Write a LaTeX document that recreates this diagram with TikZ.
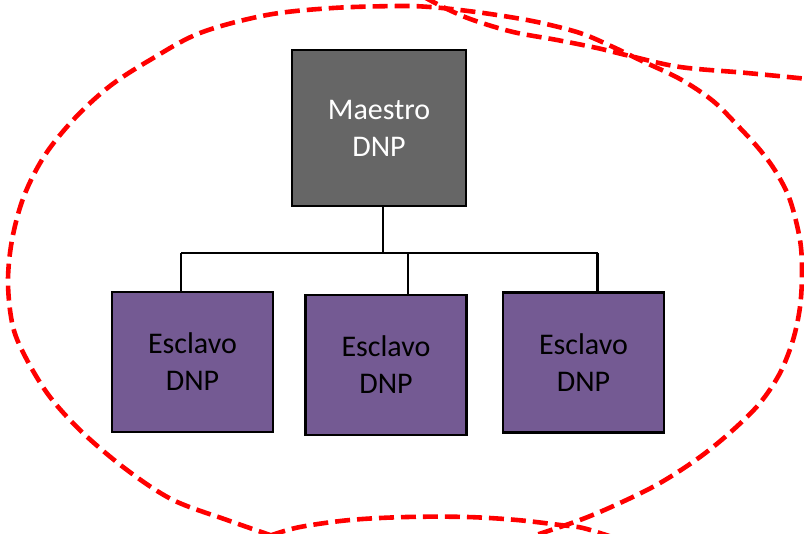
\documentclass[tikz,border=0pt]{standalone}
\usepackage{fontspec}
\setmainfont{Carlito}
\definecolor{mastergray}{HTML}{666666}
\definecolor{slavepurple}{HTML}{745A93}
\tikzset{
  box/.style={draw=black, line width=2.3pt, align=center, inner sep=0pt,
    font=\fontsize{30}{37}\selectfont},
  masterbox/.style={box, fill=mastergray, text=white,
    minimum width=174pt, minimum height=156pt},
  slavebox/.style={box, fill=slavepurple, text=black,
    minimum width=161pt, minimum height=140pt},
  link/.style={draw=black, line width=2.3pt},
  zone/.style={draw=red, line width=4.6pt, dash pattern=on 15pt off 7pt}
}
\begin{document}
\begin{tikzpicture}[x=1pt, y=-1pt]
  \useasboundingbox (0,0) rectangle (804,534);
  \clip (0,0) rectangle (804,534);

  % dashed red boundary lines
  \draw[zone] plot[smooth, tension=0.55] coordinates {
    (273,536) (227,520) (173,500) (127,470) (83,433) (50,397) (27,360)
    (13,327) (8,283) (12,240) (24,196) (45,155) (75,118) (110,86)
    (150,60) (200,33) (267,15) (333,8) (400,6) (430,7) (460,10)
    (497,15) (537,22) (580,33) (613,47) (642,61) (680,79) (713,101)
    (740,128) (760,150) (776,172) (790,200) (800,240) (802,273)
    (800,307) (793,340) (780,373) (760,403) (733,430) (700,457)
    (660,483) (620,503) (580,520) (527,538)};
  \draw[zone] plot[smooth, tension=0.55] coordinates {
    (424,-3) (447,9) (473,20) (513,32) (557,40) (597,48) (630,56)
    (680,67) (747,73) (808,79)};
  \draw[zone] plot[smooth, tension=0.55] coordinates {
    (612,537) (583,528) (560,525) (517,520) (467,517) (407,517)
    (350,520) (300,527) (272,535)};

  % boxes
  \node[masterbox] (m) at (379,128) {Maestro\\DNP};
  \node[slavebox] (s1) at (192.5,362) {Esclavo\\DNP};
  \node[slavebox] (s2) at (386,365) {Esclavo\\DNP};
  \node[slavebox] (s3) at (583.5,362.5) {Esclavo\\DNP};

  % bus connectors
  \coordinate (bm) at (383,253);
  \coordinate (b1) at (181,253);
  \coordinate (b2) at (408,253);
  \coordinate (b3) at (597.5,253);
  \draw[link] (bm |- m.south) -- (bm);
  \draw[link] (b1) -- (b3);
  \draw[link] (b1) -- (b1 |- s1.north);
  \draw[link] (b2) -- (b2 |- s2.north);
  \draw[link] (b3) -- (b3 |- s3.north);
\end{tikzpicture}
\end{document}
